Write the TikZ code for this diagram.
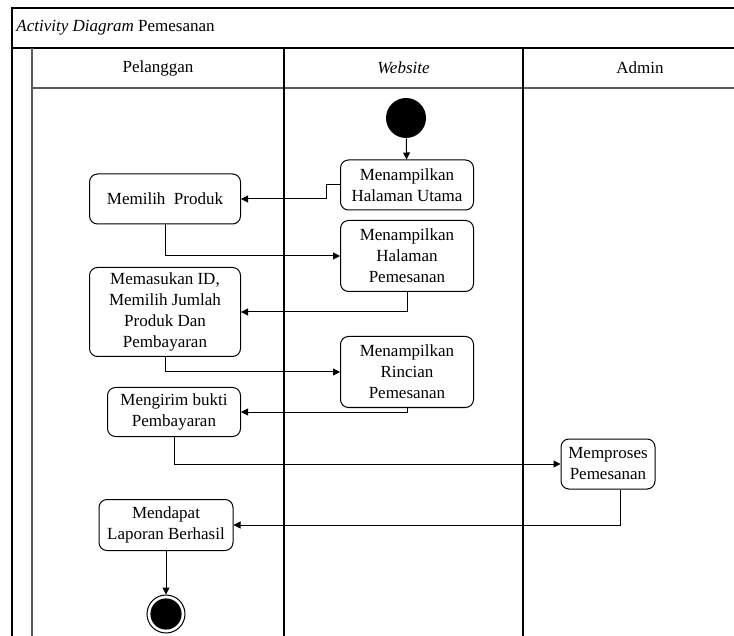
\documentclass[tikz,border=0pt]{standalone}
\usepackage{fontspec}
\setmainfont{Liberation Serif}
\usepackage{tikz}
\usetikzlibrary{shapes.geometric, arrows.meta, positioning}
\definecolor{lanegray}{HTML}{5A5A5A}
\tikzset{
  act/.style={rectangle, rounded corners=4pt, draw=black, line width=0.5pt, fill=white, align=center, font=\fontsize{8.5}{10.5}\selectfont, inner sep=1pt},
  startnode/.style={circle, fill=black, minimum size=20pt, inner sep=0pt},
  endnode/.style={circle, draw=black, line width=0.5pt, minimum size=19pt, inner sep=0pt, path picture={\fill[black] (path picture bounding box.center) circle (7.8pt);}},
  lbl/.style={font=\fontsize{8.5}{10.5}\selectfont, inner sep=0pt},
  arr/.style={-{Triangle[length=3.5pt, width=3.5pt]}, line width=0.5pt, black},
}
\begin{document}
\begin{tikzpicture}[x=0.5pt, y=-0.5pt]
\useasboundingbox (0,0) rectangle (734,636);
% swimlane frame
\draw[line width=0.6pt] (734,8) -- (12,8) -- (12,636);
\draw[line width=0.7pt] (12,48) -- (734,48);
\draw[lanegray, line width=0.6pt] (32,88) -- (734,88);
\draw[lanegray, line width=1.2pt] (32,48) -- (32,636);
\draw[line width=1pt] (284,48) -- (284,636);
\draw[line width=0.6pt] (523,48) -- (523,636);
\node[lbl, anchor=west] (judul) at (16,28) {\textit{Activity Diagram} Pemesanan};
\node[lbl] (pelanggan) at (158,68) {Pelanggan};
\node[lbl] (website) at (403.5,68) {\textit{Website}};
\node[lbl] (admin) at (640,68) {Admin};
% activities
\node[startnode] (mulai) at (406,118) {};
\node[act, minimum width=66.5pt, minimum height=25pt] (utama) at (407,185) {Menampilkan\\Halaman Utama};
\node[act, minimum width=75.5pt, minimum height=25pt] (produk) at (165,199) {Memilih~ Produk};
\node[act, minimum width=66.5pt, minimum height=35.5pt] (halpesan) at (407,256) {Menampilkan\\Halaman\\Pemesanan};
\node[act, minimum width=75.5pt, minimum height=44.5pt] (isidata) at (165,312) {Memasukan ID,\\Memilih Jumlah\\Produk Dan\\Pembayaran};
\node[act, minimum width=66.5pt, minimum height=35.5pt] (rincian) at (407,372) {Menampilkan\\Rincian\\Pemesanan};
\node[act, minimum width=66.5pt, minimum height=24.5pt] (kirimbukti) at (174,412) {Mengirim bukti\\Pembayaran};
\node[act, minimum width=47pt, minimum height=25pt] (proses) at (608,464) {Memproses\\Pemesanan};
\node[act, minimum width=67pt, minimum height=25.5pt] (laporan) at (166,525) {Mendapat\\Laporan Berhasil};
\node[endnode] (selesai) at (166,614) {};
% flow
\draw[arr] (mulai) -- (utama);
\draw[arr] (utama.west) -- ++(-14,0) |- (produk.east);
\draw[arr] (produk.south) |- (halpesan.west);
\draw[arr] (halpesan.south) |- (isidata.east);
\draw[arr] (isidata.south) |- (rincian.west);
\draw[arr] (rincian.south) |- (kirimbukti.east);
\draw[arr] (kirimbukti.south) |- (proses.west);
\draw[arr] ([xshift=6pt]proses.south) |- (laporan.east);
\draw[arr] (laporan) -- (selesai);
\end{tikzpicture}
\end{document}
